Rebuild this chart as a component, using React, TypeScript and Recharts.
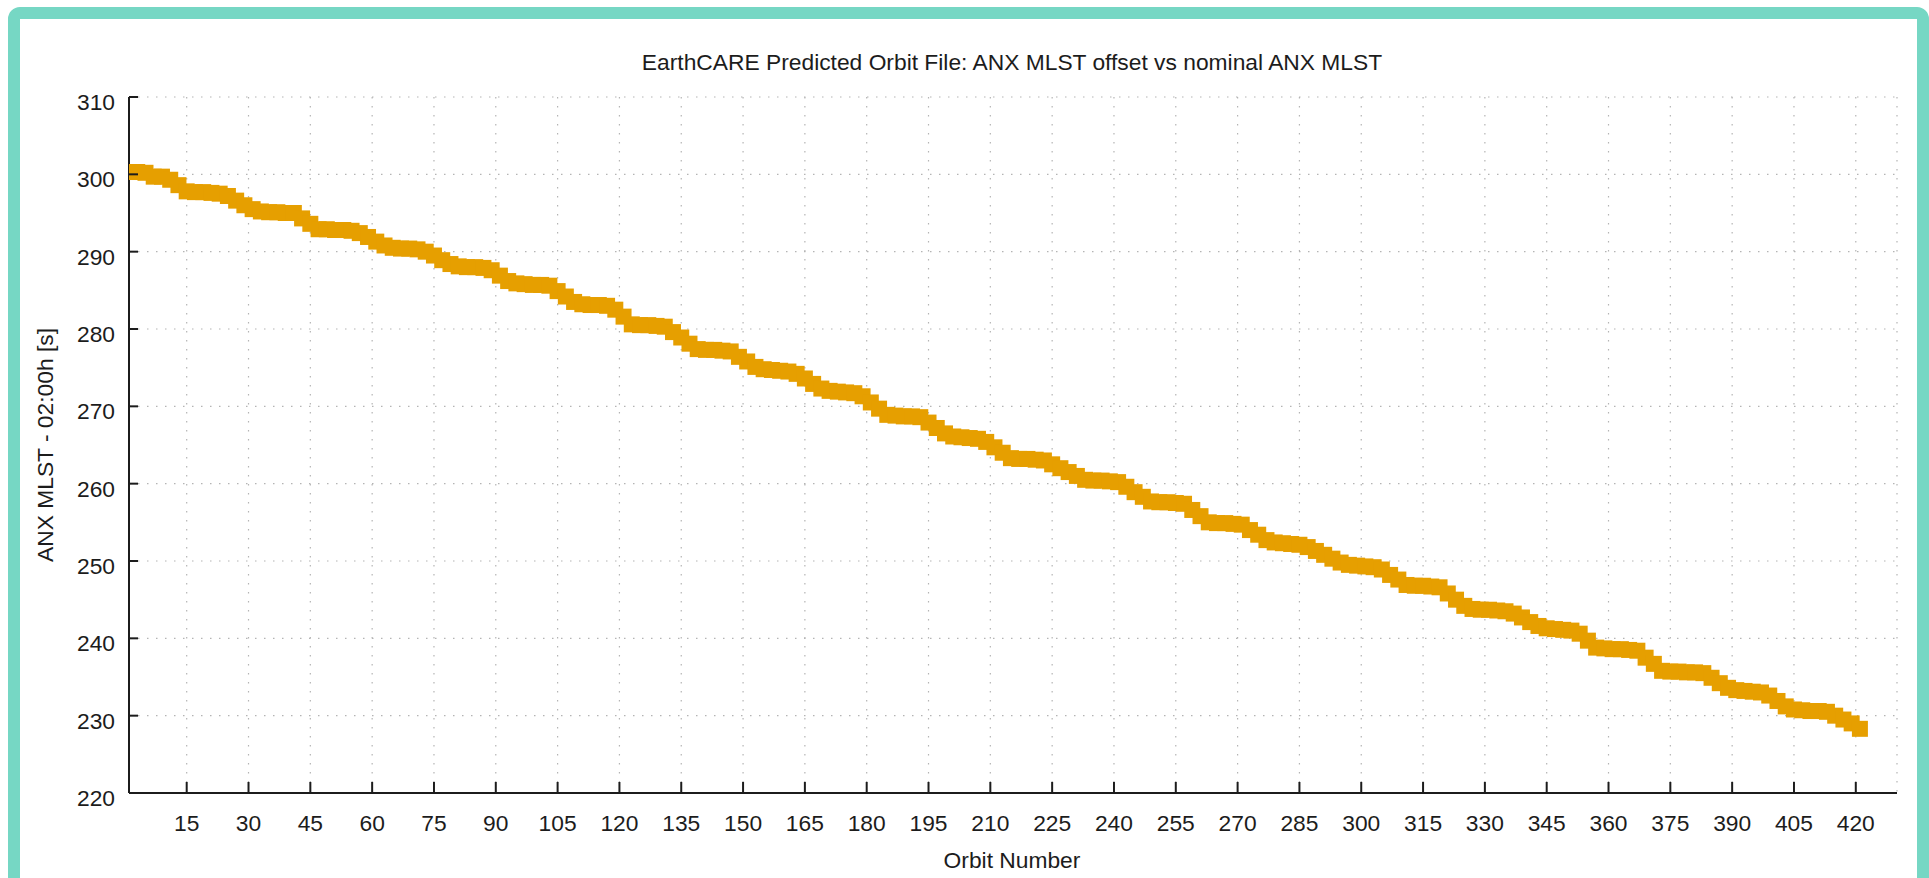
import React from "react";
import { ScatterChart, Scatter, XAxis, YAxis, CartesianGrid } from "recharts";

// orbit number (every second orbit) and ANX MLST offset in seconds
const orbitNumbers = [
  1, 3, 5, 7, 9, 11, 13, 15, 17, 19,
  21, 23, 25, 27, 29, 31, 33, 35, 37, 39,
  41, 43, 45, 47, 49, 51, 53, 55, 57, 59,
  61, 63, 65, 67, 69, 71, 73, 75, 77, 79,
  81, 83, 85, 87, 89, 91, 93, 95, 97, 99,
  101, 103, 105, 107, 109, 111, 113, 115, 117, 119,
  121, 123, 125, 127, 129, 131, 133, 135, 137, 139,
  141, 143, 145, 147, 149, 151, 153, 155, 157, 159,
  161, 163, 165, 167, 169, 171, 173, 175, 177, 179,
  181, 183, 185, 187, 189, 191, 193, 195, 197, 199,
  201, 203, 205, 207, 209, 211, 213, 215, 217, 219,
  221, 223, 225, 227, 229, 231, 233, 235, 237, 239,
  241, 243, 245, 247, 249, 251, 253, 255, 257, 259,
  261, 263, 265, 267, 269, 271, 273, 275, 277, 279,
  281, 283, 285, 287, 289, 291, 293, 295, 297, 299,
  301, 303, 305, 307, 309, 311, 313, 315, 317, 319,
  321, 323, 325, 327, 329, 331, 333, 335, 337, 339,
  341, 343, 345, 347, 349, 351, 353, 355, 357, 359,
  361, 363, 365, 367, 369, 371, 373, 375, 377, 379,
  381, 383, 385, 387, 389, 391, 393, 395, 397, 399,
  401, 403, 405, 407, 409, 411, 413, 415, 417, 419,
  421,
];

const anxMlstOffset = [
  300.3, 300.3, 300.2, 299.7, 299.7, 299.3, 298.6, 297.8, 297.7, 297.7,
  297.6, 297.5, 297.2, 296.6, 296.0, 295.5, 295.2, 295.1, 295.1, 295.0,
  295.0, 294.3, 293.6, 292.9, 292.9, 292.8, 292.8, 292.7, 292.4, 291.9,
  291.3, 290.8, 290.5, 290.4, 290.4, 290.3, 290.0, 289.5, 288.9, 288.4,
  288.1, 288.0, 288.0, 287.9, 287.6, 286.9, 286.2, 285.9, 285.8, 285.7,
  285.7, 285.6, 284.9, 284.2, 283.5, 283.2, 283.1, 283.1, 283.0, 282.5,
  281.6, 280.6, 280.5, 280.5, 280.4, 280.3, 279.6, 278.9, 278.1, 277.4,
  277.3, 277.3, 277.2, 277.1, 276.4, 275.8, 275.1, 274.8, 274.7, 274.6,
  274.5, 274.2, 273.6, 272.9, 272.3, 272.0, 271.9, 271.8, 271.7, 271.3,
  270.5, 269.7, 268.9, 268.8, 268.7, 268.7, 268.6, 267.9, 267.2, 266.5,
  266.1, 266.0, 265.9, 265.8, 265.4, 264.7, 264.0, 263.3, 263.2, 263.2,
  263.1, 263.0, 262.5, 262.0, 261.5, 261.0, 260.5, 260.4, 260.4, 260.3,
  260.2, 259.6, 258.9, 258.3, 257.7, 257.6, 257.6, 257.5, 257.4, 256.6,
  255.8, 255.0, 254.9, 254.9, 254.8, 254.7, 254.0, 253.4, 252.7, 252.4,
  252.3, 252.2, 252.1, 251.8, 251.3, 250.8, 250.3, 249.8, 249.5, 249.4,
  249.3, 249.2, 248.9, 248.2, 247.6, 246.9, 246.8, 246.8, 246.7, 246.6,
  245.8, 245.0, 244.2, 243.8, 243.7, 243.7, 243.6, 243.5, 243.2, 242.7,
  242.1, 241.6, 241.3, 241.2, 241.1, 241.0, 240.6, 239.7, 238.8, 238.7,
  238.6, 238.6, 238.5, 238.4, 237.5, 236.7, 235.8, 235.7, 235.7, 235.6,
  235.6, 235.5, 234.9, 234.2, 233.6, 233.3, 233.2, 233.1, 233.0, 232.6,
  231.9, 231.2, 230.8, 230.7, 230.6, 230.6, 230.5, 230.0, 229.5, 229.0,
  228.3,
];

const orbitTicks = [
  15, 30, 45, 60, 75, 90, 105, 120, 135, 150, 165, 180, 195, 210,
  225, 240, 255, 270, 285, 300, 315, 330, 345, 360, 375, 390, 405, 420,
];
const offsetTicks = [220, 230, 240, 250, 260, 270, 280, 290, 300, 310];

const chartTitle = "EarthCARE Predicted Orbit File: ANX MLST offset vs nominal ANX MLST";
const xLabel = "Orbit Number";
const yLabel = "ANX MLST - 02:00h [s]";

const FONT = '"Liberation Sans", Arial, Helvetica, sans-serif';
const INK = "#1c1c1c";
const ORANGE = "#E69F00";
const FRAME = "#76D7C4";
const FS = 22.8;

const data = orbitNumbers.map((orbit, i) => ({ orbit, offset: anxMlstOffset[i] }));

// gnuplot style: ticks point into the plot
const BottomTick = (props: any) => {
  const { x, y, payload } = props;
  return (
    <g>
      <line x1={x} y1={y} x2={x} y2={y - 11} stroke={INK} strokeWidth={2} />
      <text x={x} y={y + 38} textAnchor="middle" fontSize={FS} fontFamily={FONT} fill={INK}>
        {payload.value}
      </text>
    </g>
  );
};

const TopTick = (props: any) => {
  const { x, y } = props;
  return <line x1={x} y1={y} x2={x} y2={y + 11} stroke={INK} strokeWidth={2} />;
};

const LeftTick = (props: any) => {
  const { x, y, payload } = props;
  return (
    <g>
      <line x1={x} y1={y} x2={x + 9} y2={y} stroke={INK} strokeWidth={2} />
      <text x={x - 14} y={y + 13} textAnchor="end" fontSize={FS} fontFamily={FONT} fill={INK}>
        {payload.value}
      </text>
    </g>
  );
};

const RightTick = (props: any) => {
  const { x, y } = props;
  return <line x1={x} y1={y} x2={x - 10} y2={y} stroke={INK} strokeWidth={2} />;
};

const SquareMarker = (props: any) => {
  const { cx, cy } = props;
  if (cx == null || cy == null) return null;
  return <rect x={cx - 8} y={cy - 8} width={16} height={16} fill={ORANGE} />;
};

export default function App() {
  return (
    <div>
      <style>{"html,body{margin:0;padding:0;overflow:hidden;background:#fff}"}</style>
      <div
        style={{
          position: "absolute",
          left: 8,
          top: 7,
          width: 1921,
          height: 885,
          boxSizing: "border-box",
          border: `12.5px solid ${FRAME}`,
          borderRadius: 12,
          background: "#fff",
        }}
      />
      <div style={{ position: "absolute", left: 0, top: 0, width: 1929, height: 878 }}>
        <ScatterChart width={1929} height={878} margin={{ top: 97, right: 32, bottom: 0, left: 0 }}>
          <CartesianGrid stroke="#b4b4b4" strokeDasharray="1.5 7.5" strokeWidth={1.2} />
          <XAxis
            xAxisId={0}
            type="number"
            dataKey="orbit"
            domain={[1, 430]}
            ticks={orbitTicks}
            interval={0}
            allowDataOverflow
            height={85}
            tickSize={0}
            tickMargin={0}
            tickLine={false}
            axisLine={{ stroke: INK, strokeWidth: 2 }}
            tick={<BottomTick />}
          />
          <XAxis
            xAxisId="top"
            orientation="top"
            type="number"
            dataKey="orbit"
            domain={[1, 430]}
            ticks={orbitTicks}
            interval={0}
            allowDataOverflow
            height={0}
            tickSize={0}
            tickMargin={0}
            tickLine={false}
            axisLine={{ stroke: INK, strokeWidth: 2 }}
            tick={<TopTick />}
          />
          <YAxis
            yAxisId={0}
            type="number"
            dataKey="offset"
            domain={[220, 310]}
            ticks={offsetTicks}
            interval={0}
            allowDataOverflow
            width={129}
            tickSize={0}
            tickMargin={0}
            tickLine={false}
            axisLine={{ stroke: INK, strokeWidth: 2 }}
            tick={<LeftTick />}
          />
          <YAxis
            yAxisId="right"
            orientation="right"
            type="number"
            dataKey="offset"
            domain={[220, 310]}
            ticks={offsetTicks}
            interval={0}
            allowDataOverflow
            width={0}
            tickSize={0}
            tickMargin={0}
            tickLine={false}
            axisLine={{ stroke: INK, strokeWidth: 2 }}
            tick={<RightTick />}
          />
          <Scatter
            xAxisId={0}
            yAxisId={0}
            data={data}
            shape={SquareMarker}
            fill={ORANGE}
            isAnimationActive={false}
          />
        </ScatterChart>
      </div>
      <svg
        width={1929}
        height={878}
        style={{ position: "absolute", left: 0, top: 0, pointerEvents: "none" }}
      >
        <text x={1012} y={70} textAnchor="middle" fontSize={FS} fontFamily={FONT} fill={INK}>
          {chartTitle}
        </text>
        <text x={1012} y={868} textAnchor="middle" fontSize={FS} fontFamily={FONT} fill={INK}>
          {xLabel}
        </text>
        <text
          x={0}
          y={0}
          transform="translate(53,445) rotate(-90)"
          textAnchor="middle"
          fontSize={FS}
          fontFamily={FONT}
          fill={INK}
        >
          {yLabel}
        </text>
      </svg>
    </div>
  );
}
